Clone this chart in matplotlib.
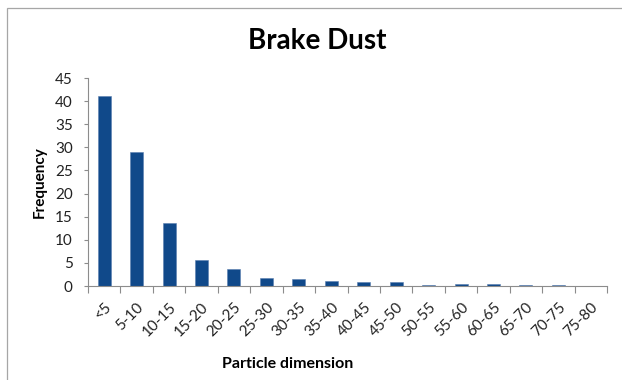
import matplotlib.pyplot as plt
from matplotlib.patches import Rectangle
from matplotlib.transforms import ScaledTranslation

# Particle size classes and how often each was counted
categorias = ["<5", "5-10", "10-15", "15-20", "20-25", "25-30", "30-35", "35-40",
              "40-45", "45-50", "50-55", "55-60", "60-65", "65-70", "70-75", "75-80"]
frecuencia = [41.1, 29.0, 13.6, 5.6, 3.7, 1.8, 1.6, 1.1,
              0.9, 0.9, 0.2, 0.4, 0.4, 0.2, 0.2, 0.0]

plt.rcParams["font.family"] = ["Lato", "DejaVu Sans"]

fig = plt.figure(figsize=(6.22, 3.80), dpi=100)
ax = fig.add_axes([88 / 622, 1 - 286 / 380, (607 - 88) / 622, (286 - 78) / 380])

x = range(len(categorias))
ax.bar(x, frecuencia, width=0.4, color="#10498a", edgecolor="#5a7fb0", linewidth=0.4)

ax.set_xlim(-0.5, len(categorias) - 0.5)
ax.set_ylim(0, 45)
ax.set_yticks(range(0, 46, 5))

# ticks sit on the category boundaries, labels at the bar centres
ax.set_xticks([i - 0.5 for i in range(len(categorias) + 1)])
ax.set_xticklabels([])
ax.set_xticks(list(x), minor=True)
ax.set_xticklabels(categorias, minor=True, rotation=45, ha="right",
                   rotation_mode="anchor", fontsize=11, color="#222222")
desplazamiento = ScaledTranslation(5 / 100, 0, fig.dpi_scale_trans)
for etiqueta in ax.get_xticklabels(minor=True):
    etiqueta.set_transform(etiqueta.get_transform() + desplazamiento)
ax.tick_params(axis="x", which="minor", length=0, pad=10)
ax.tick_params(axis="x", which="major", length=5, color="#8c8c8c", width=0.8)
ax.tick_params(axis="y", length=3, color="#8c8c8c", width=0.8, labelsize=11,
               labelcolor="#222222", pad=8)

for lado in ["top", "right"]:
    ax.spines[lado].set_visible(False)
for lado in ["left", "bottom"]:
    ax.spines[lado].set_color("#8c8c8c")
    ax.spines[lado].set_linewidth(0.8)

ax.set_ylabel("Frequency", fontsize=11, fontweight="bold", labelpad=6)
ax.set_xlabel("Particle dimension", fontsize=11.5, fontweight="bold")
ax.xaxis.set_label_coords((288 - 88) / 519, -0.34)
fig.text(317 / 622, 1 - 41 / 380, "Brake Dust", fontsize=20, fontweight="bold",
         ha="center", va="center")

# thin frame around the chart area
fig.patches.append(Rectangle((7 / 622, -0.1), 1.1, 1 - 8 / 380 + 0.1,
                             transform=fig.transFigure, fill=False,
                             edgecolor="#a6a6a6", linewidth=0.9))

fig.savefig("out.png", dpi=100)
